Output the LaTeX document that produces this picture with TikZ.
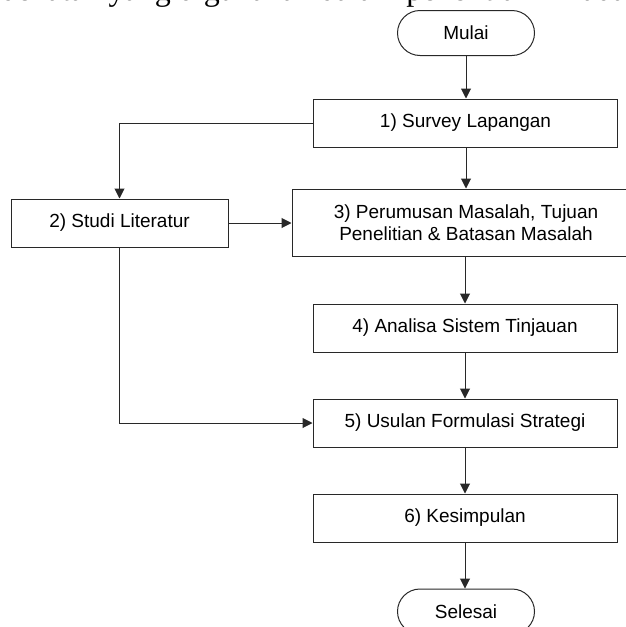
\documentclass[tikz,border=0pt]{standalone}
\usepackage{fontspec}
\setmainfont{Liberation Sans}
\newfontfamily\serifbody{Liberation Serif}
\usepackage{tikz}
\usetikzlibrary{arrows.meta,positioning,calc}
\definecolor{flowline}{RGB}{40,40,40}

\begin{document}
\begin{tikzpicture}[x=1pt,y=-1pt,>={Triangle[length=10pt,width=10pt]},
    font=\fontsize{19}{21.7}\selectfont,
    proses/.style={draw=flowline,line width=1pt,rectangle,minimum width=304pt,minimum height=48pt,inner sep=2pt,align=center},
    terminal/.style={draw=flowline,line width=1pt,rectangle,rounded corners=22.5pt,minimum width=137pt,minimum height=45pt},
    alur/.style={->,draw=flowline,line width=1pt}]
  \useasboundingbox (0,0) rectangle (626,627);
  \clip (0,0) rectangle (626,627);
  \node[anchor=base west,inner sep=0pt,font=\serifbody\fontsize{32}{36}\selectfont] (kalimat) at (-47,0) {Pendekatan yang digunakan dalam penelitian ini adalah};
  \node[terminal] (mulai) at (466,33) {Mulai};
  \node[proses] (survey) at (465.5,123) {1) Survey Lapangan};
  \node[proses,minimum width=217pt] (studi) at (119.5,223) {2) Studi Literatur};
  \node[proses,minimum width=348pt,minimum height=67pt] (rumusan) at (466,222.5) {3) Perumusan Masalah, Tujuan\\Penelitian \& Batasan Masalah};
  \node[proses] (analisa) at (465,328) {4) Analisa Sistem Tinjauan};
  \node[proses] (usulan) at (465,423) {5) Usulan Formulasi Strategi};
  \node[proses] (simpulan) at (465,518) {6) Kesimpulan};
  \node[terminal] (selesai) at (466,611.5) {Selesai};
  \draw[alur] (mulai) -- (mulai |- survey.north);
  \draw[alur] (survey.west) -| (studi.north);
  \draw[alur] (survey.south -| rumusan) -- (rumusan.north);
  \draw[alur] (studi.east) -- (studi.east -| rumusan.west);
  \draw[alur] (rumusan.south -| analisa) -- (analisa.north);
  \draw[alur] (analisa) -- (usulan);
  \draw[alur] (studi.south) |- (usulan.west);
  \draw[alur] (usulan) -- (simpulan);
  \draw[alur] (simpulan) -- (simpulan |- selesai.north);
\end{tikzpicture}
\end{document}
